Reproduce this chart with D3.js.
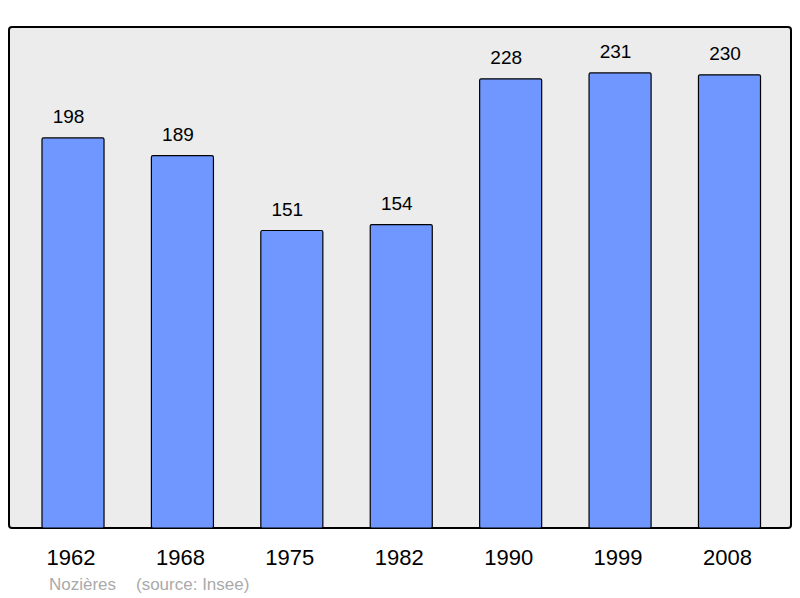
<!DOCTYPE html>
<html>
<head>
<meta charset="utf-8">
<script src="https://cdn.jsdelivr.net/npm/d3@7"></script>
<style>
  body { margin: 0; background: #fff; }
  svg { display: block; font-family: "Liberation Sans", Arial, sans-serif; }
</style>
</head>
<body>
<svg id="chart" width="800" height="598"></svg>
<script>
const years = ["1962", "1968", "1975", "1982", "1990", "1999", "2008"];
const population = [198, 189, 151, 154, 228, 231, 230];
const commune = "Nozières";
const source = "(source: Insee)";

const svg = d3.select("#chart");

// plot frame
const frame = { left: 9, top: 27, right: 791, bottom: 528 };

const x = d3.scaleBand()
  .domain(years)
  .range([18.3, 784.2])
  .paddingInner(0.433)
  .paddingOuter(0.2165);

const y = d3.scaleLinear()
  .domain([0, 254.3])
  .range([frame.bottom, frame.top]);

svg.append("rect")
  .attr("x", frame.left)
  .attr("y", frame.top)
  .attr("width", frame.right - frame.left)
  .attr("height", frame.bottom - frame.top)
  .attr("rx", 3)
  .attr("fill", "#ececec")
  .attr("stroke", "#000")
  .attr("stroke-width", 2);

const data = years.map((yr, i) => ({ year: yr, value: population[i] }));

svg.append("g")
  .selectAll("rect")
  .data(data)
  .join("rect")
  .attr("x", d => x(d.year))
  .attr("y", d => y(d.value))
  .attr("width", x.bandwidth())
  .attr("height", d => y(0) - y(d.value))
  .attr("rx", 1.5)
  .attr("fill", "#7097ff")
  .attr("stroke", "#000")
  .attr("stroke-width", 1.2);

// value labels (sit slightly left of the bar centre in the original)
svg.append("g")
  .selectAll("text")
  .data(data)
  .join("text")
  .attr("x", d => x(d.year) + x.bandwidth() / 2 - 4.5)
  .attr("y", d => y(d.value) - 15)
  .attr("text-anchor", "middle")
  .attr("font-size", 19)
  .attr("fill", "#000")
  .text(d => d.value);

// year axis
const xAxis = svg.append("g")
  .attr("transform", `translate(-2,${frame.bottom})`)
  .call(d3.axisBottom(x).tickSize(0).tickPadding(0));
xAxis.select(".domain").remove();
xAxis.selectAll("text")
  .attr("y", 37)
  .attr("dy", 0)
  .attr("font-size", 22)
  .attr("font-family", "Liberation Sans, Arial, sans-serif")
  .attr("fill", "#000");

svg.append("text")
  .attr("x", 49)
  .attr("y", 590)
  .attr("font-size", 17)
  .attr("fill", "#aaaaaa")
  .text(commune);

svg.append("text")
  .attr("x", 136)
  .attr("y", 590)
  .attr("font-size", 17)
  .attr("fill", "#aaaaaa")
  .text(source);
</script>
</body>
</html>
